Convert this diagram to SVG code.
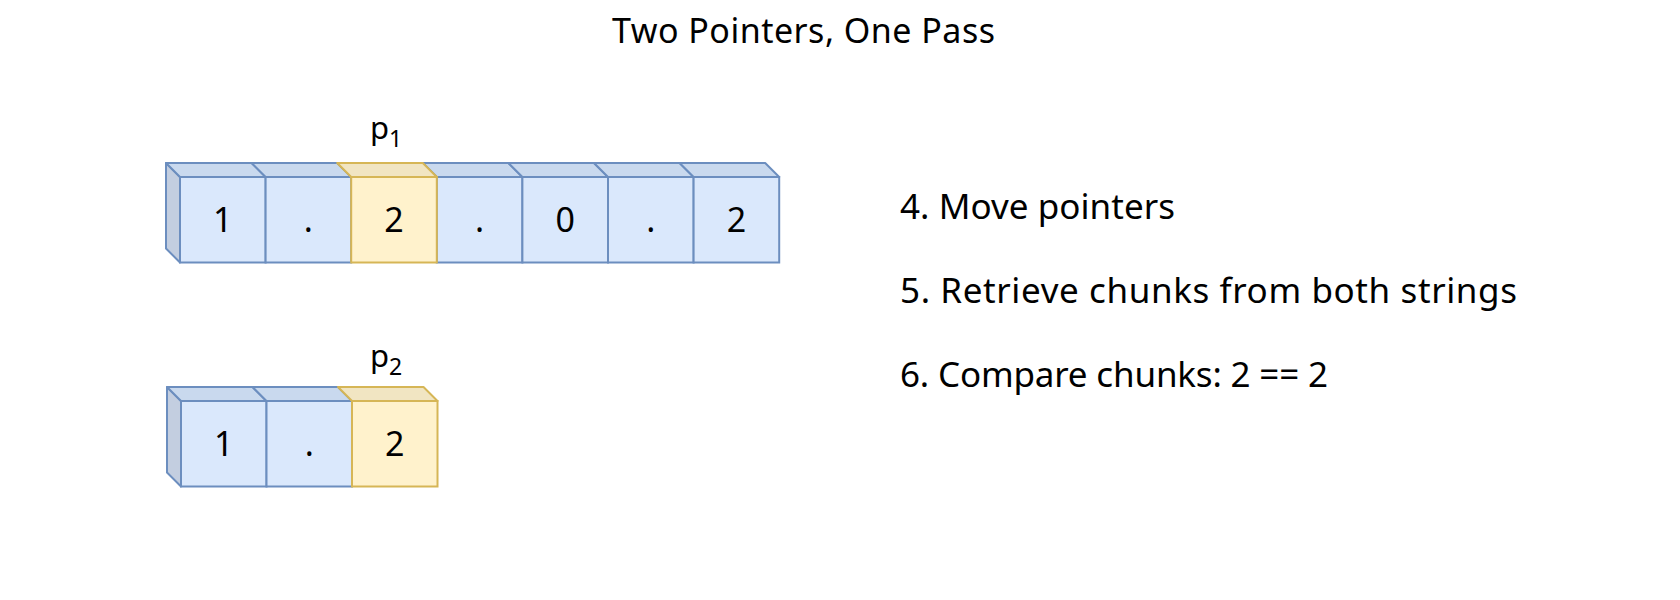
<svg xmlns="http://www.w3.org/2000/svg" width="1680" height="600" viewBox="0 0 1680 600">
<style>
  text { font-family: "Noto Sans", "DejaVu Sans", sans-serif; fill: #000; }
  .front-b { fill: #dae8fc; stroke: #6c8ebf; stroke-width: 2; }
  .top-b { fill: #c9d9ee; stroke: #6c8ebf; stroke-width: 2; stroke-linejoin: round; }
  .side-b { fill: #c3cee0; stroke: #6c8ebf; stroke-width: 2; stroke-linejoin: round; }
  .front-y { fill: #fff2cc; stroke: #d6b656; stroke-width: 2; }
  .top-y { fill: #f1e5c2; stroke: #d6b656; stroke-width: 2; stroke-linejoin: round; }
  .cell { font-size: 34px; text-anchor: middle; }
  .ptr { font-size: 31px; }
  .sub { font-size: 23px; }
  .step { font-size: 35px; }
  .title { font-size: 34px; }
</style>
<g id="title"><text class="title" x="612" y="43" textLength="383">Two Pointers, One Pass</text></g>

<g id="array1">
  <polygon class="side-b" points="166,163 180,177 180,262.5 166,248.5"/>
  <polygon class="top-b" points="166,163 251.6,163 265.6,177 180,177"/>
  <polygon class="top-b" points="251.6,163 337.2,163 351.2,177 265.6,177"/>
  <polygon class="top-b" points="422.8,163 508.4,163 522.4,177 436.8,177"/>
  <polygon class="top-b" points="508.4,163 594,163 608,177 522.4,177"/>
  <polygon class="top-b" points="594,163 679.6,163 693.6,177 608,177"/>
  <polygon class="top-b" points="679.6,163 765.2,163 779.2,177 693.6,177"/>
  <rect class="front-b" x="180" y="177" width="85.6" height="85.5"/>
  <rect class="front-b" x="265.6" y="177" width="85.6" height="85.5"/>
  <rect class="front-b" x="436.8" y="177" width="85.6" height="85.5"/>
  <rect class="front-b" x="522.4" y="177" width="85.6" height="85.5"/>
  <rect class="front-b" x="608" y="177" width="85.6" height="85.5"/>
  <rect class="front-b" x="693.6" y="177" width="85.6" height="85.5"/>
  <polygon class="top-y" points="337.2,163 422.8,163 436.8,177 351.2,177"/>
  <rect class="front-y" x="351.2" y="177" width="85.6" height="85.5"/>
  <text class="cell" x="222.8" y="232">1</text>
  <text class="cell" x="308.4" y="232">.</text>
  <text class="cell" x="394" y="232">2</text>
  <text class="cell" x="479.6" y="232">.</text>
  <text class="cell" x="565.2" y="232">0</text>
  <text class="cell" x="650.8" y="232">.</text>
  <text class="cell" x="736.4" y="232">2</text>
</g>

<g id="p1"><text class="ptr" x="370" y="139">p<tspan class="sub" dy="8">1</tspan></text></g>

<g id="array2">
  <polygon class="side-b" points="167,387 181,401 181,486.5 167,472.5"/>
  <polygon class="top-b" points="167,387 252.5,387 266.5,401 181,401"/>
  <polygon class="top-b" points="252.5,387 338,387 352,401 266.5,401"/>
  <rect class="front-b" x="181" y="401" width="85.5" height="85.5"/>
  <rect class="front-b" x="266.5" y="401" width="85.5" height="85.5"/>
  <polygon class="top-y" points="338,387 423.5,387 437.5,401 352,401"/>
  <rect class="front-y" x="352" y="401" width="85.5" height="85.5"/>
  <text class="cell" x="223.7" y="456">1</text>
  <text class="cell" x="309.2" y="456">.</text>
  <text class="cell" x="394.7" y="456">2</text>
</g>

<g id="p2"><text class="ptr" x="370" y="367">p<tspan class="sub" dy="8">2</tspan></text></g>

<g id="steps">
  <text class="step" x="900" y="219" textLength="275">4. Move pointers</text>
  <text class="step" x="900" y="303" textLength="617">5. Retrieve chunks from both strings</text>
  <text class="step" x="900" y="387" textLength="428">6. Compare chunks: 2 == 2</text>
</g>
<g id="connectors"></g>
</svg>
